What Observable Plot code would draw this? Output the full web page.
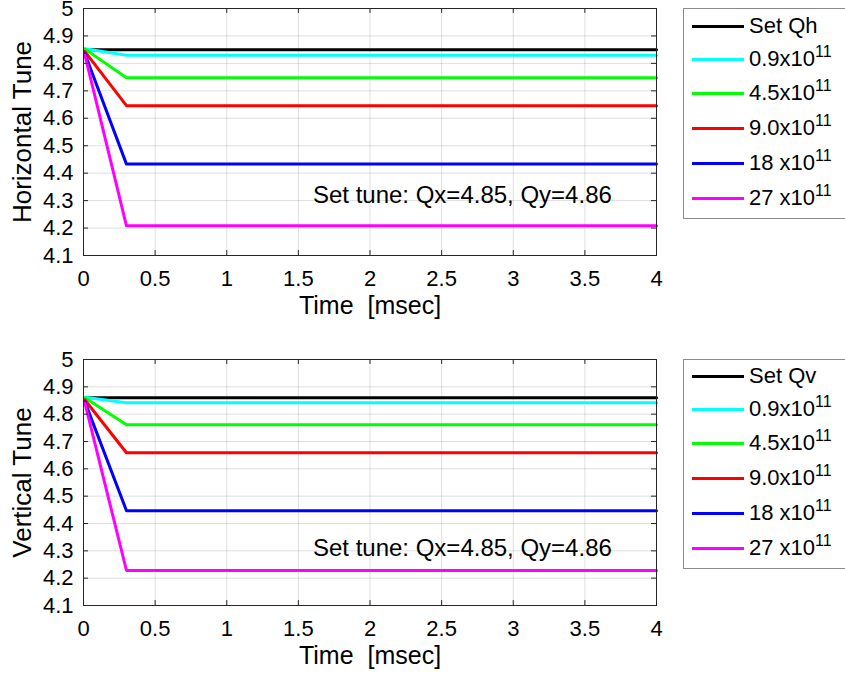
<!DOCTYPE html>
<html>
<head>
<meta charset="utf-8">
<script src="https://cdn.jsdelivr.net/npm/d3@7"></script>
<script src="https://cdn.jsdelivr.net/npm/@observablehq/plot@0.6"></script>
<style>
  html, body { margin: 0; padding: 0; background: #fff; }
  #wrap { position: relative; width: 845px; height: 677px; overflow: hidden; background: #fff;
          font-family: "Liberation Sans", Arial, Helvetica, sans-serif; }
  #wrap svg text { white-space: pre; }
  .plotbox { position: absolute; left: 0; }
  .legend { position: absolute; left: 683px; width: 175px; border: 1px solid #8a8a8a; background: #fff; box-sizing: border-box; }
  .legend .row { position: absolute; left: 0; height: 0; }
  .legend .sw { position: absolute; left: 8px; width: 52px; height: 3px; top: -1.5px; }
  .legend .lab { position: absolute; left: 65px; top: -13px; font-size: 22px; line-height: 26px; white-space: pre; color: #000; }
  .legend .sup { font-size: 16px; position: relative; top: -9px; }
</style>
</head>
<body>
<div id="wrap"></div>
<script>
// ---- data ----
const seriesNames = ["Set", "0.9", "4.5", "9.0", "18", "27"];
const seriesColors = ["#000000", "#00ffff", "#00ff00", "#ff0000", "#0000ff", "#ff00ff"];
const legendMain = ["Set Qh", "0.9x10", "4.5x10", "9.0x10", "18 x10", "27 x10"];
const legendMainV = ["Set Qv", "0.9x10", "4.5x10", "9.0x10", "18 x10", "27 x10"];
const legendSup = ["", "11", "11", "11", "11", "11"];

// time points (msec) of each curve: start, end of ramp, end of record
const timeH = [0.01, 0.30, 4.0];
const hSet  = [4.85, 4.85, 4.85];
const h09   = [4.853, 4.830, 4.830];
const h45   = [4.852, 4.748, 4.748];
const h90   = [4.843, 4.646, 4.646];
const h18   = [4.835, 4.433, 4.433];
const h27   = [4.830, 4.208, 4.208];

const timeV = [0.01, 0.30, 4.0];
const vSet  = [4.86, 4.86, 4.86];
const v09   = [4.862, 4.842, 4.842];
const v45   = [4.860, 4.761, 4.761];
const v90   = [4.852, 4.659, 4.659];
const v18   = [4.845, 4.447, 4.447];
const v27   = [4.840, 4.228, 4.228];

const xTicks = [0, 0.5, 1, 1.5, 2, 2.5, 3, 3.5, 4];
const yTicks = [4.1, 4.2, 4.3, 4.4, 4.5, 4.6, 4.7, 4.8, 4.9, 5];
const annotation = "Set tune: Qx=4.85, Qy=4.86";

function toRows(time, arrays) {
  const rows = [];
  arrays.forEach((arr, i) => arr.forEach((q, j) => rows.push({t: time[j], q, s: seriesNames[i], c: seriesColors[i]})));
  return rows;
}
const dataH = toRows(timeH, [hSet, h09, h45, h90, h18, h27]);
const dataV = toRows(timeV, [vSet, v09, v45, v90, v18, v27]);

const FONT = "Liberation Sans, Arial, Helvetica, sans-serif";

function makePlot(rows, ylabel, annY, height, mTop, mBottom) {
  const tx = 0.035, ty = 0.018;
  return Plot.plot({
    width: 845, height,
    marginLeft: 83, marginRight: 189, marginTop: mTop, marginBottom: mBottom,
    x: {domain: [0, 4]},
    y: {domain: [4.1, 5]},
    style: {fontFamily: FONT, background: "transparent", color: "#000", overflow: "visible"},
    marks: [
      Plot.gridX(xTicks, {stroke: "#000", strokeOpacity: 0.13, strokeWidth: 1}),
      Plot.gridY(yTicks, {stroke: "#000", strokeOpacity: 0.13, strokeWidth: 1}),
      Plot.line(rows, {x: "t", y: "q", z: "s", stroke: "c", strokeWidth: 3, strokeLinejoin: "round"}),
      Plot.text([annotation], {x: 2.645, y: annY, fontSize: 24, fill: "#000"}),
      // inward ticks on all four sides
      Plot.ruleX(xTicks, {y1: 4.1, y2: 4.1 + ty, stroke: "#262626"}),
      Plot.ruleX(xTicks, {y1: 5 - ty, y2: 5, stroke: "#262626"}),
      Plot.ruleY(yTicks, {x1: 0, x2: tx, stroke: "#262626"}),
      Plot.ruleY(yTicks, {x1: 4 - tx, x2: 4, stroke: "#262626"}),
      Plot.frame({stroke: "#262626", strokeWidth: 1}),
      Plot.axisX(xTicks, {tickSize: 0, tickPadding: 15, fontSize: 22, label: null, tickFormat: d => String(d), fill: "#000"}),
      Plot.axisY(yTicks, {tickSize: 0, tickPadding: 10, fontSize: 22, label: null, tickFormat: d => String(+d.toFixed(1)), fill: "#000"}),
      Plot.text(["Time  [msec]"], {frameAnchor: "bottom", lineAnchor: "middle", dy: 50, fontSize: 25, fill: "#000"}),
      Plot.text([ylabel], {frameAnchor: "left", textAnchor: "middle", lineAnchor: "middle", dx: -61, rotate: -90, fontSize: 26, fill: "#000"})
    ]
  });
}

const wrap = document.getElementById("wrap");

function addPlot(svg, top) {
  const d = document.createElement("div");
  d.className = "plotbox";
  d.style.top = top + "px";
  d.appendChild(svg);
  wrap.appendChild(d);
}

function addLegend(top, height, rowsY, labels) {
  const lg = document.createElement("div");
  lg.className = "legend";
  lg.style.top = top + "px";
  lg.style.height = height + "px";
  labels.forEach((lab, i) => {
    const r = document.createElement("div");
    r.className = "row";
    r.style.top = (rowsY[i] - top) + "px";
    const sw = document.createElement("div");
    sw.className = "sw";
    sw.style.background = seriesColors[i];
    r.appendChild(sw);
    const t = document.createElement("div");
    t.className = "lab";
    t.appendChild(document.createTextNode(lab));
    if (legendSup[i]) {
      const s = document.createElement("span");
      s.className = "sup";
      s.textContent = legendSup[i];
      t.appendChild(s);
    }
    r.appendChild(t);
    lg.appendChild(r);
  });
  wrap.appendChild(lg);
}

addPlot(makePlot(dataH, "Horizontal Tune", 4.32, 338, 8, 83), 0);
addPlot(makePlot(dataV, "Vertical Tune", 4.31, 339, 21, 72), 338);
addLegend(8, 211, [25, 58, 92, 127, 162, 197], legendMain);
addLegend(359, 210, [375, 408, 442, 477, 512, 547], legendMainV);
</script>
</body>
</html>
